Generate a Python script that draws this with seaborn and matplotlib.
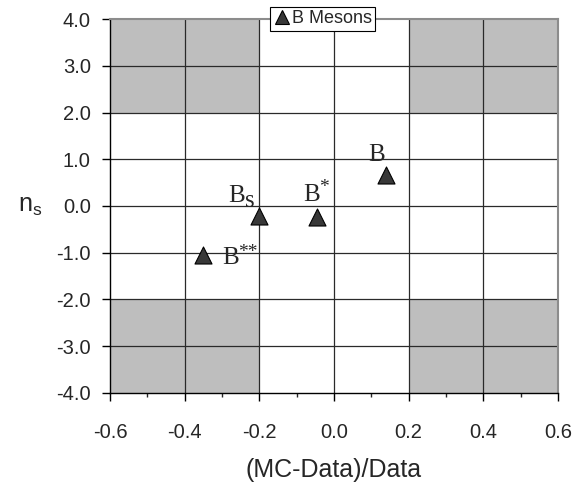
import numpy as np
import pandas as pd
import matplotlib
matplotlib.use("Agg")
import matplotlib.pyplot as plt
import seaborn as sns
from matplotlib.lines import Line2D

# data
mesons = ["B", "B*", "Bs", "B**"]
deviation = [0.138, -0.046, -0.200, -0.351]   # (MC-Data)/Data
n_sigma = [0.66, -0.24, -0.21, -1.05]          # n_s
label_base = ["B", "B", "B", "B"]
label_script = ["", "*", "s", "**"]
base_offsets = [(-17, 14), (-14, 16), (-31, 14), (19, -9)]     # pixels, left/baseline anchor
script_offsets = [(0, 0), (2, 25), (-14, 9), (35, -2)]
script_sizes = [14, 14, 18, 14]

# shaded excluded corners: (x0, x1, y0, y1)
shaded = [(-0.6, -0.2, 2, 4), (0.2, 0.6, 2, 4), (-0.6, -0.2, -4, -2), (0.2, 0.6, -4, -2)]

xticks = [-0.6, -0.4, -0.2, 0.0, 0.2, 0.4, 0.6]
yticks = [-4, -3, -2, -1, 0, 1, 2, 3, 4]

df = pd.DataFrame({"meson": mesons, "dev": deviation, "ns": n_sigma})

sns.set_style("ticks")
plt.rcParams["font.family"] = ["Liberation Sans", "DejaVu Sans"]
plt.rcParams["mathtext.fontset"] = "custom"
plt.rcParams["mathtext.rm"] = "Liberation Sans"
plt.rcParams["mathtext.sf"] = "Liberation Sans"

fig = plt.figure(figsize=(5.78, 4.97), dpi=100)
ax = fig.add_axes([0.1903, 0.2099, 0.7751, 0.7513])

for x0, x1, y0, y1 in shaded:
    ax.fill_between([x0, x1], y0, y1, color="#bebebe", lw=0, zorder=0)

for x in xticks[1:-1]:
    ax.axvline(x, color="#2a2a2a", lw=0.9, zorder=1)
for y in yticks[1:-1]:
    ax.axhline(y, color="#2a2a2a", lw=0.9, zorder=1)

sns.scatterplot(data=df, x="dev", y="ns", marker="^", s=150, color="#383838",
                edgecolor="black", linewidth=0.8, ax=ax, zorder=3, legend=False)

serif = ["Liberation Serif", "DejaVu Serif"]
for xv, yv, base, scr, boff, soff, ssz in zip(deviation, n_sigma, label_base, label_script,
                                             base_offsets, script_offsets, script_sizes):
    ax.annotate(base, (xv, yv), xytext=boff, textcoords="offset pixels",
                ha="left", va="baseline", fontsize=18, family=serif, zorder=4)
    if scr:
        ax.annotate(scr, (xv, yv), xytext=soff, textcoords="offset pixels",
                    ha="left", va="baseline", fontsize=ssz, family=serif, zorder=4)

ax.set_xlim(-0.6, 0.6)
ax.set_ylim(-4, 4)
ax.set_xticks(xticks)
ax.set_xticklabels([f"{v:.1f}" for v in xticks])
ax.set_xticks(np.arange(-0.5, 0.6, 0.2), minor=True)
ax.set_yticks(yticks)
ax.set_yticklabels([f"{v:.1f}" for v in yticks])
ax.tick_params(axis="both", which="major", labelsize=14.5, length=5.8, width=1, color="black")
ax.tick_params(axis="x", which="major", pad=16)
ax.tick_params(axis="y", which="major", pad=8)
ax.tick_params(axis="x", which="minor", length=3, width=1)

for side in ["left", "bottom"]:
    ax.spines[side].set_color("black")
    ax.spines[side].set_linewidth(1)
for side in ["top", "right"]:
    ax.spines[side].set_visible(True)
    ax.spines[side].set_color("#8c8c8c")
    ax.spines[side].set_linewidth(1.5)

ax.set_xlabel("(MC-Data)/Data", fontsize=18, va="center")
ax.xaxis.set_label_coords(0.5, -0.207)
ax.set_ylabel(r"n$_\mathsf{s}$", fontsize=18, rotation=0, va="center", ha="center")
ax.yaxis.set_label_coords(-0.178, 0.5)

handle = Line2D([], [], marker="^", ls="none", markersize=10, markerfacecolor="#383838",
                markeredgecolor="black", markeredgewidth=0.8)
leg = fig.legend([handle], ["B Mesons"], loc="center", bbox_to_anchor=(0.558, 0.962),
                 fontsize=13, frameon=True, fancybox=False, handletextpad=0.1,
                 handlelength=0.9, borderpad=0.2, borderaxespad=0)
leg.get_frame().set_edgecolor("black")
leg.get_frame().set_linewidth(0.8)
leg.get_frame().set_alpha(1)
leg.set_zorder(10)

fig.savefig("out.png", dpi=100)
